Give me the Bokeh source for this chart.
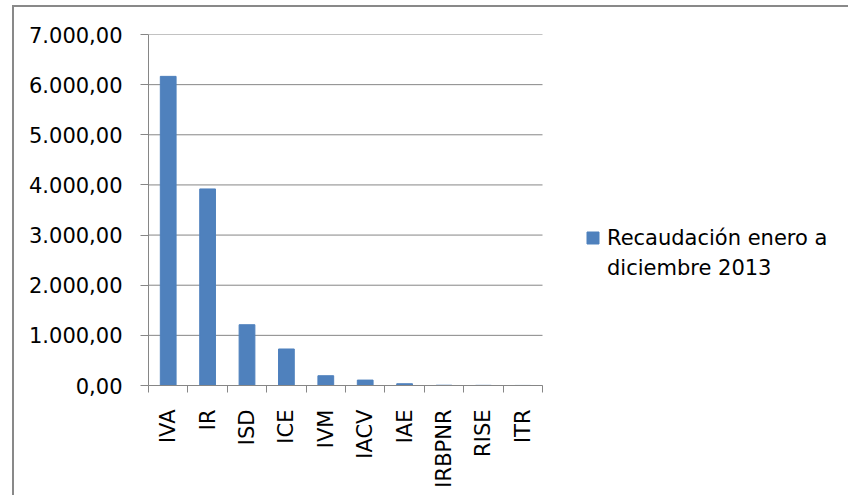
import math

from bokeh.embed import file_html
from bokeh.models import (ColumnDataSource, FixedTicker, Legend, LegendItem,
                          LinearAxis, Range1d)
from bokeh.plotting import figure
from bokeh.resources import INLINE

# Tax collection, January to December 2013 (millions)
categories = ["IVA", "IR", "ISD", "ICE", "IVM", "IACV", "IAE", "IRBPNR", "RISE", "ITR"]
recaudacion = [6165, 3920, 1212, 728, 195, 108, 35, 5, 3, 1]

y_ticks = [0, 1000, 2000, 3000, 4000, 5000, 6000, 7000]
y_tick_labels = ["0,00", "1.000,00", "2.000,00", "3.000,00",
                 "4.000,00", "5.000,00", "6.000,00", "7.000,00"]

series_lines = ["Recaudación enero a", "diciembre 2013"]

FONT = "DejaVu Sans"
GRAY = "#868686"
BAR = "#4F81BD"

n = len(categories)
centers = [i + 0.5 for i in range(n)]
boundaries = list(range(n + 1))

# the plotting frame runs to the right edge so the legend can sit inside it;
# the category slots only fill the left part of the frame
PLOT_W, FRAME_LEFT = 836, 134
FRAME_W = PLOT_W - FRAME_LEFT
CAT_W = 394
x_end = n * FRAME_W / CAT_W

source = ColumnDataSource(dict(x=centers, top=recaudacion, cat=categories))
grid_src = ColumnDataSource(dict(y=y_ticks, x0=[0] * len(y_ticks), x1=[n] * len(y_ticks)))

p = figure(
    width=PLOT_W, height=490,
    x_range=Range1d(0, x_end), y_range=Range1d(0, 7000),
    x_axis_location=None, y_axis_location=None,
    min_border_left=FRAME_LEFT, min_border_right=0,
    min_border_top=27, min_border_bottom=112,
    output_backend="svg", toolbar_location=None,
    styles={"margin-left": "12px", "margin-top": "5px",
            "border-left": "2px solid #898989", "border-top": "2px solid #898989"},
)
p.outline_line_color = None
p.background_fill_color = "white"
p.border_fill_color = "white"
p.grid.visible = False

# horizontal gridlines spanning the category slots only
p.segment(x0="x0", y0="y", x1="x1", y1="y", source=grid_src,
          line_color=GRAY, line_width=1)

bars = p.vbar(x="x", top="top", width=0.4, source=source,
              fill_color=BAR, line_color=BAR)

# value axis
yaxis = LinearAxis(
    ticker=FixedTicker(ticks=y_ticks),
    major_label_overrides={t: s for t, s in zip(y_ticks, y_tick_labels)},
    axis_line_color=GRAY, major_tick_line_color=GRAY,
    major_tick_out=8, major_tick_in=0, minor_tick_out=0, minor_tick_in=0,
    major_label_standoff=18,
    major_label_text_font=FONT, major_label_text_font_size="21px",
    major_label_text_color="black",
)
p.add_layout(yaxis, "left")

# category axis: labels at bar centres, tick marks between categories
xaxis = LinearAxis(
    bounds=(0, n),
    ticker=FixedTicker(ticks=centers, minor_ticks=boundaries),
    major_label_overrides={c: s for c, s in zip(centers, categories)},
    axis_line_color=GRAY, major_tick_line_color=None,
    minor_tick_line_color=GRAY,
    major_tick_out=0, major_tick_in=0, minor_tick_out=7, minor_tick_in=0,
    major_label_orientation=math.pi / 2, major_label_standoff=17,
    major_label_text_font=FONT, major_label_text_font_size="21px",
    major_label_text_color="black",
)
p.add_layout(xaxis, "below")

# legend: the series name wraps onto a second line without a swatch
blank = p.vbar(x=[], top=[], width=0.4, fill_alpha=0, line_alpha=0)
legend = Legend(
    items=[LegendItem(label=series_lines[0], renderers=[bars]),
           LegendItem(label=series_lines[1], renderers=[blank])],
    location=(437, 105), padding=0, margin=0, spacing=5,
    glyph_width=15, glyph_height=15, label_standoff=7, label_height=25,
    border_line_color=None, background_fill_alpha=0,
    label_text_font=FONT, label_text_font_size="21px",
    label_text_color="black",
)
p.add_layout(legend, "center")

open("out.html", "w").write(file_html(p, INLINE))
